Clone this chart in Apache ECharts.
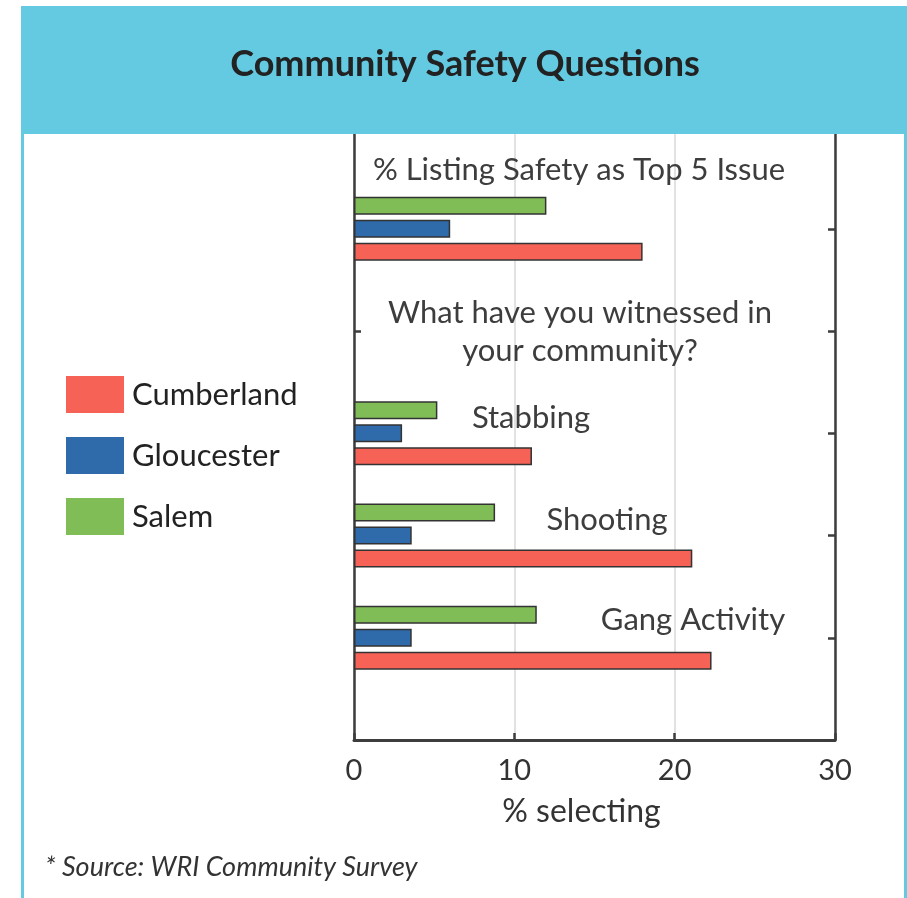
<!DOCTYPE html>
<html>
<head>
<meta charset="utf-8">
<script src="https://cdn.jsdelivr.net/npm/echarts@6/dist/echarts.min.js"></script>
<style>
html,body{margin:0;padding:0;background:#fff;}
#chart{width:907px;height:898px;}
</style>
</head>
<body>
<div id="chart"></div>
<script>
// Category slots from bottom to top (empty slots are spacers)
const categories = ['', 'Gang Activity', 'Shooting', 'Stabbing', '', '% Listing Safety as Top 5 Issue', ''];
const cumberland = [null, 22.3, 21.1, 11.1, null, 18.0, null];
const gloucester = [null, 3.6, 3.6, 3.0, null, 6.0, null];
const salem = [null, 11.4, 8.8, 5.2, null, 12.0, null];
const seriesNames = ['Cumberland', 'Gloucester', 'Salem'];
const xTicks = [0, 10, 20, 30];

const FONT = 'Lato, "Open Sans", sans-serif';
const colors = { Cumberland: '#F76257', Gloucester: '#2F6BAA', Salem: '#80BD57' };
const cyan = '#63CAE2';
const axisColor = '#3d3d3d';

const chart = echarts.init(document.getElementById('chart'));

function barSeries(name, data) {
  return {
    name: name,
    type: 'bar',
    data: data,
    barWidth: 18,
    barGap: '28%',
    itemStyle: { color: colors[name], borderColor: '#333', borderWidth: 1.5 },
    silent: true
  };
}

const yCommon = {
  type: 'category',
  data: categories,
  boundaryGap: false,
  axisLine: { show: true, lineStyle: { color: axisColor, width: 2.5 } },
  axisTick: { show: true, inside: true, length: 7, lineStyle: { color: axisColor, width: 2.5 } },
  axisLabel: { show: false },
  splitLine: { show: false }
};

const annot = (x, y, text) => ({
  type: 'text', z: 50, x: x, y: y,
  style: { text: text, fill: '#3d3d3d', font: '31px ' + FONT, textAlign: 'center', textVerticalAlign: 'middle' }
});

chart.setOption({
  animation: false,
  textStyle: { fontFamily: FONT },
  grid: { left: 354, right: 72, top: 126.5, bottom: 158, containLabel: false },
  xAxis: {
    type: 'value',
    min: xTicks[0],
    max: xTicks[xTicks.length - 1],
    interval: 10,
    name: '% selecting',
    nameLocation: 'middle',
    nameGap: 56,
    nameTextStyle: { fontSize: 32, color: '#333', fontFamily: FONT, padding: [0, 26, 0, 0] },
    axisLine: { show: true, lineStyle: { color: axisColor, width: 3 } },
    axisTick: { show: true, inside: true, length: 7, lineStyle: { color: axisColor, width: 2.5 } },
    axisLabel: { fontSize: 29, color: '#333', margin: 16, fontFamily: FONT },
    splitLine: { show: true, lineStyle: { color: '#e2e2e2', width: 2 } }
  },
  yAxis: [
    Object.assign({}, yCommon, { position: 'left' }),
    Object.assign({}, yCommon, { position: 'right' })
  ],
  legend: {
    data: seriesNames,
    orient: 'vertical',
    left: 66,
    top: 376,
    padding: 0,
    itemWidth: 58,
    itemHeight: 37,
    itemGap: 24,
    icon: 'rect',
    itemStyle: { borderWidth: 0 },
    selectedMode: false,
    textStyle: { fontSize: 31, color: '#222', fontFamily: FONT, padding: [0, 0, 0, 3] }
  },
  series: [
    barSeries('Salem', salem),
    barSeries('Gloucester', gloucester),
    barSeries('Cumberland', cumberland)
  ],
  graphic: [
    { type: 'rect', z: 100, shape: { x: 21, y: 6, width: 886, height: 128 }, style: { fill: cyan } },
    { type: 'rect', z: 100, shape: { x: 21, y: 134, width: 3, height: 764 }, style: { fill: cyan } },
    { type: 'rect', z: 100, shape: { x: 904, y: 134, width: 3, height: 764 }, style: { fill: cyan } },
    { type: 'text', z: 101, x: 465, y: 64, style: { text: 'Community Safety Questions', fill: '#222', font: 'bold 36px ' + FONT, textAlign: 'center', textVerticalAlign: 'middle' } },
    annot(579, 170, categories[5]),
    annot(580, 313, 'What have you witnessed in'),
    annot(580, 351, 'your community?'),
    annot(531, 418, categories[3]),
    annot(607, 520, categories[2]),
    annot(693, 620, categories[1]),
    { type: 'text', z: 50, x: 45, y: 867, style: { text: '* Source: WRI Community Survey', fill: '#333', font: 'italic 27px ' + FONT, textAlign: 'left', textVerticalAlign: 'middle' } }
  ]
});
</script>
</body>
</html>
